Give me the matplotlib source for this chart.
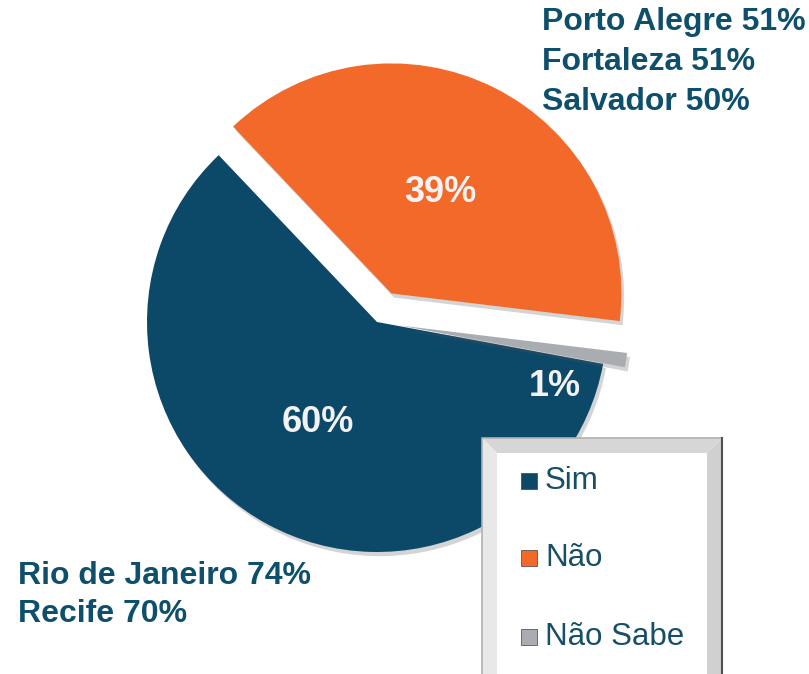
import matplotlib
matplotlib.use("Agg")
import matplotlib.pyplot as plt
from matplotlib.patches import Polygon, Rectangle
import matplotlib.patheffects as pe

plt.rcParams['font.family'] = ['Liberation Sans', 'DejaVu Sans']

# ---- data ----
categories = ["Sim", "Não", "Não Sabe"]
values = [60, 39, 1]
pct_labels = ["60%", "39%", "1%"]
colors = ["#0c4868", "#f2692a", "#a9adb2"]
explode_px = [0, 32, 22]
top_note = ["Porto Alegre 51%", "Fortaleza 51%", "Salvador 50%"]
bottom_note = ["Rio de Janeiro 74%", "Recife 70%"]

W, H = 809, 674
fig = plt.figure(figsize=(W / 100, H / 100), dpi=100)
ax = fig.add_axes([0, 0, 1, 1])

def Y(y):
    return H - y

cx, cy, R = 377, Y(322), 230
wedges, _ = ax.pie(values, colors=colors, explode=explode_px, startangle=-10.5,
                   counterclock=False, center=(cx, cy), radius=R,
                   wedgeprops=dict(linewidth=0))
for w in wedges:
    w.set_path_effects([pe.SimplePatchShadow(offset=(2, -3), alpha=0.25, shadow_rgbFace='#555555'),
                        pe.Normal()])

ax.set_xlim(0, W)
ax.set_ylim(0, H)
ax.set_aspect('auto')
ax.axis('off')

# slice labels
label_pos = [(318, 422), (440, 193), (555, 387)]
for (x, y), t in zip(label_pos, pct_labels):
    ax.text(x, Y(y), t, color='#f2f2f2', fontsize=26, fontweight='bold',
            ha='center', va='center')

# notes
txt_color = '#0e4f6b'
for i, t in enumerate(top_note):
    ax.text(542, Y(22 + i * 40), t, color=txt_color, fontsize=23,
            fontweight='bold', ha='left', va='center')
for i, t in enumerate(bottom_note):
    ax.text(18, Y(576 + i * 38), t, color=txt_color, fontsize=23,
            fontweight='bold', ha='left', va='center')

# legend box with bevel
L, T, Rr, B = 482, 438, 722, 680
bw = 15
ax.add_patch(Rectangle((L, Y(B)), Rr - L, B - T, facecolor='white',
                       edgecolor='none', zorder=5))
ax.add_patch(Polygon([(L, Y(T)), (Rr, Y(T)), (Rr - bw, Y(T + bw)), (L + bw, Y(T + bw))],
                     closed=True, facecolor='#d6d6d6', edgecolor='none', zorder=6))
ax.add_patch(Polygon([(L, Y(T)), (L + bw, Y(T + bw)), (L + bw, Y(B)), (L, Y(B))],
                     closed=True, facecolor='#e8e8e8', edgecolor='none', zorder=6))
ax.add_patch(Polygon([(Rr, Y(T)), (Rr, Y(B)), (Rr - bw, Y(B)), (Rr - bw, Y(T + bw))],
                     closed=True, facecolor='#d0d0d0', edgecolor='none', zorder=6))
ax.plot([L, L, Rr, Rr], [Y(B), Y(T), Y(T), Y(B)], color='#b0b0b0', lw=1.2, zorder=7)
ax.plot([Rr, Rr], [Y(T), Y(B)], color='#505050', lw=1.5, zorder=7)

leg_y = [481, 558, 637]
for yy, c, lab in zip(leg_y, colors, categories):
    ax.add_patch(Rectangle((521, Y(yy) - 8), 16, 16, facecolor=c,
                           edgecolor='#404040', lw=0.5, zorder=8))
    ax.text(545, Y(yy), lab, color='#174f66', fontsize=22.5, ha='left',
            va='center', zorder=8)

fig.savefig("out.png", dpi=100)
